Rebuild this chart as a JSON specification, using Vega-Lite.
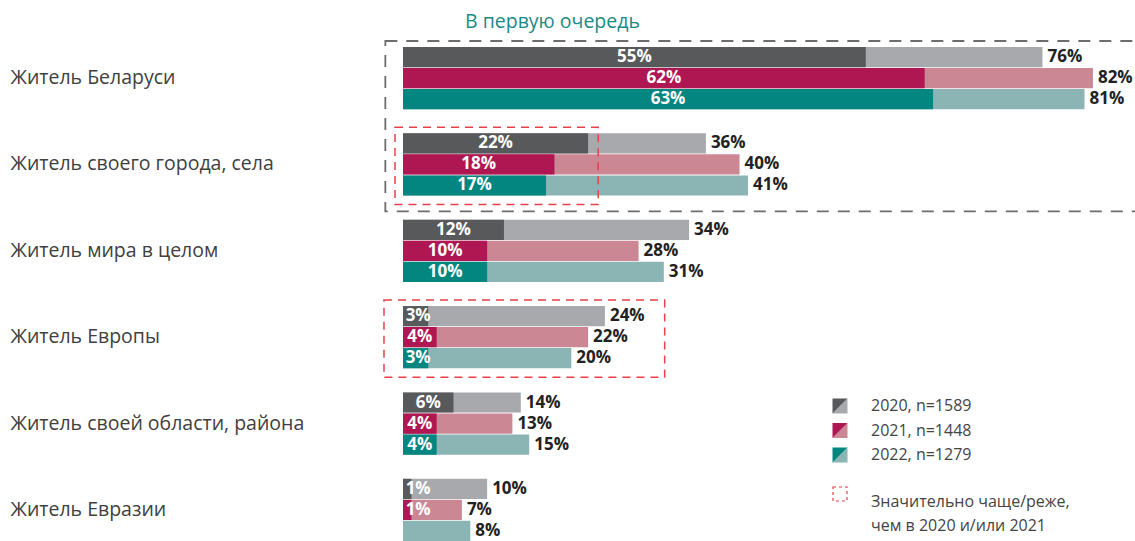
{
  "$schema": "https://vega.github.io/schema/vega-lite/v6.json",
  "autosize": "none",
  "width": 732,
  "height": 494,
  "padding": {"left": 403, "top": 47, "right": 0, "bottom": 0},
  "background": "white",
  "config": {"view": {"stroke": null}, "font": "Open Sans", "style": {"guide-label": {"lineHeight": 24}}},
  "title": {"text": "В первую очередь", "anchor": "start", "frame": "group", "dx": 62, "offset": 8, "fontSize": 19.5, "fontWeight": "normal", "color": "#1a8a86", "font": "Open Sans"},
  "datasets": {
    "bars": [
      {"cat": "Житель Беларуси", "year": "2020, n=1589", "first": 55, "total": 76},
      {"cat": "Житель Беларуси", "year": "2021, n=1448", "first": 62, "total": 82},
      {"cat": "Житель Беларуси", "year": "2022, n=1279", "first": 63, "total": 81},
      {"cat": "Житель своего города, села", "year": "2020, n=1589", "first": 22, "total": 36},
      {"cat": "Житель своего города, села", "year": "2021, n=1448", "first": 18, "total": 40},
      {"cat": "Житель своего города, села", "year": "2022, n=1279", "first": 17, "total": 41},
      {"cat": "Житель мира в целом", "year": "2020, n=1589", "first": 12, "total": 34},
      {"cat": "Житель мира в целом", "year": "2021, n=1448", "first": 10, "total": 28},
      {"cat": "Житель мира в целом", "year": "2022, n=1279", "first": 10, "total": 31},
      {"cat": "Житель Европы", "year": "2020, n=1589", "first": 3, "total": 24},
      {"cat": "Житель Европы", "year": "2021, n=1448", "first": 4, "total": 22},
      {"cat": "Житель Европы", "year": "2022, n=1279", "first": 3, "total": 20},
      {"cat": "Житель своей области, района", "year": "2020, n=1589", "first": 6, "total": 14},
      {"cat": "Житель своей области, района", "year": "2021, n=1448", "first": 4, "total": 13},
      {"cat": "Житель своей области, района", "year": "2022, n=1279", "first": 4, "total": 15},
      {"cat": "Житель Евразии", "year": "2020, n=1589", "first": 1, "total": 10},
      {"cat": "Житель Евразии", "year": "2021, n=1448", "first": 1, "total": 7},
      {"cat": "Житель Евразии", "year": "2022, n=1279", "first": null, "total": 8}
    ],
    "greybox": [
      {"from": "Житель Беларуси", "to": "Житель своего города, села", "x0": -2.1, "x1": 89}
    ],
    "redbox": [
      {"from": "Житель своего города, села", "to": "Житель своего города, села", "x0": -0.95, "x1": 23.2, "note": "Значительно чаще/реже, чем в 2020 и/или 2021"},
      {"from": "Житель Европы", "to": "Житель Европы", "x0": -2.26, "x1": 31.1, "note": "Значительно чаще/реже, чем в 2020 и/или 2021"}
    ]
  },
  "layer": [
    {
      "data": {"name": "bars"},
      "mark": {"type": "bar", "orient": "horizontal"},
      "encoding": {
        "y": {"field": "cat", "type": "nominal", "sort": null, "scale": {"paddingInner": 0.28, "paddingOuter": 0},
          "axis": {"title": null, "domain": false, "ticks": false, "labelAlign": "left", "labelPadding": 393, "labelFontSize": 19.5, "labelColor": "#404040", "labelLimit": 0, "labelFont": "Open Sans"}},
        "yOffset": {"field": "year", "type": "nominal", "sort": null, "scale": {"paddingInner": 0.04}},
        "x": {"field": "total", "type": "quantitative", "scale": {"domain": [0, 87], "nice": false}, "axis": null},
        "fill": {"field": "year", "type": "nominal", "sort": null,
          "scale": {"range": ["#a7a9ac", "#cc8795", "#8bb4b5"]},
          "legend": {"orient": "none", "legendX": 429, "legendY": 351, "title": null, "padding": 0, "symbolType": "M1,-1L1,1L-1,1Z", "symbolSize": 225, "labelExpr": "''", "labelFontSize": 16, "rowPadding": 8.5, "symbolStrokeWidth": 0}}
      }
    },
    {
      "data": {"name": "bars"},
      "transform": [{"filter": "datum.first != null"}],
      "mark": {"type": "bar", "orient": "horizontal"},
      "encoding": {
        "y": {"field": "cat", "type": "nominal", "sort": null},
        "yOffset": {"field": "year", "type": "nominal", "sort": null},
        "x": {"field": "first", "type": "quantitative"},
        "color": {"field": "year", "type": "nominal", "sort": null,
          "scale": {"range": ["#58595b", "#ae1752", "#038580"]},
          "legend": {"orient": "none", "legendX": 429, "legendY": 351, "title": null, "padding": 0, "symbolType": "M-1,-1L1,-1L-1,1Z", "symbolSize": 225, "labelFontSize": 16, "labelColor": "#444444", "labelFont": "Open Sans", "labelOffset": 23, "rowPadding": 8.5, "symbolStrokeWidth": 0}}
      }
    },
    {
      "data": {"name": "bars"},
      "transform": [{"filter": "datum.first != null"}, {"calculate": "max(datum.first / 2, 1.8)", "as": "mid"}, {"calculate": "datum.first + '%'", "as": "lab"}],
      "mark": {"type": "text", "align": "center", "baseline": "middle", "color": "white", "fontWeight": "bold", "fontSize": 17, "font": "Open Sans"},
      "encoding": {
        "y": {"field": "cat", "type": "nominal", "sort": null},
        "yOffset": {"field": "year", "type": "nominal", "sort": null},
        "x": {"field": "mid", "type": "quantitative"},
        "text": {"field": "lab", "type": "nominal"}
      }
    },
    {
      "data": {"name": "bars"},
      "transform": [{"calculate": "datum.total + '%'", "as": "lab"}],
      "mark": {"type": "text", "align": "left", "baseline": "middle", "dx": 5, "color": "#222222", "fontWeight": "bold", "fontSize": 17, "font": "Open Sans"},
      "encoding": {
        "y": {"field": "cat", "type": "nominal", "sort": null},
        "yOffset": {"field": "year", "type": "nominal", "sort": null},
        "x": {"field": "total", "type": "quantitative"},
        "text": {"field": "lab", "type": "nominal"}
      }
    },
    {
      "data": {"name": "greybox"},
      "mark": {"type": "rect", "fill": null, "stroke": "#6d6d6d", "strokeWidth": 1.8, "strokeDash": [12, 9], "yOffset": -6, "y2Offset": 47},
      "encoding": {
        "y": {"field": "from", "type": "nominal", "sort": null, "bandPosition": 0},
        "y2": {"field": "to"},
        "x": {"field": "x0", "type": "quantitative"},
        "x2": {"field": "x1"}
      }
    },
    {
      "data": {"name": "redbox"},
      "mark": {"type": "rect", "fill": null, "strokeWidth": 1.5, "strokeDash": [8, 6], "yOffset": -6, "y2Offset": 40},
      "encoding": {
        "y": {"field": "from", "type": "nominal", "sort": null, "bandPosition": 0},
        "y2": {"field": "to"},
        "x": {"field": "x0", "type": "quantitative"},
        "x2": {"field": "x1"},
        "stroke": {"field": "note", "type": "nominal", "scale": {"range": ["#e8404a"]},
          "legend": {"orient": "none", "legendX": 429, "legendY": 439, "title": null, "padding": 0, "symbolType": "square", "symbolSize": 196, "symbolStrokeColor": "#c0204e", "symbolFillColor": "transparent", "symbolStrokeWidth": 1.2, "symbolDash": [3, 3], "labelFontSize": 16, "labelColor": "#444444", "labelFont": "Open Sans", "labelOffset": 23, "labelLimit": 0, "labelExpr": "['Значительно чаще/реже,', 'чем в 2020 и/или 2021']", "labelBaseline": "top"}}
      }
    }
  ],
  "resolve": {"scale": {"x": "shared", "y": "shared"}}
}
